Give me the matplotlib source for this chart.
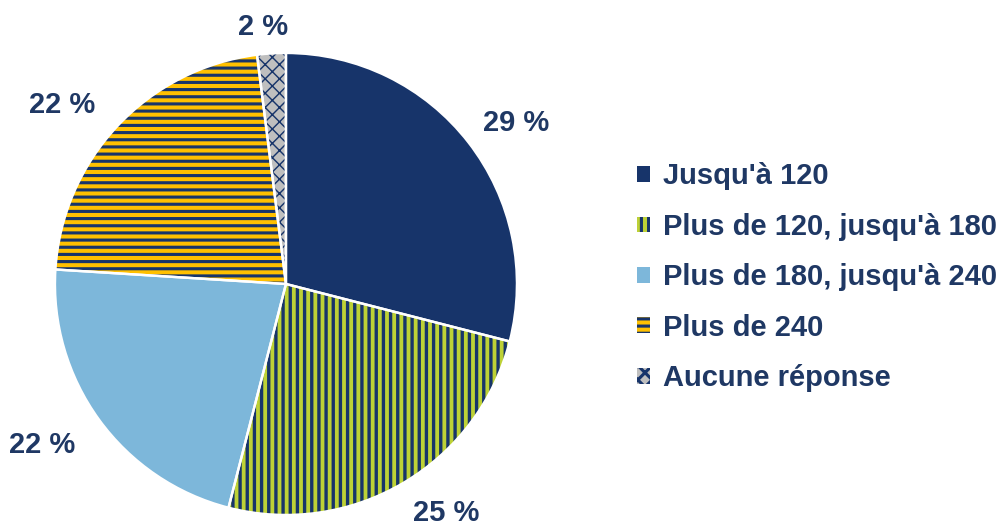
import numpy as np
import matplotlib.pyplot as plt

categories = [
    "Jusqu'à 120",
    "Plus de 120, jusqu'à 180",
    "Plus de 180, jusqu'à 240",
    "Plus de 240",
    "Aucune réponse",
]
shares = [29, 25, 22, 22, 2]

NAVY = "#17346A"
TEXT = "#1F3864"
fills = ["#17346A", "#BDD136", "#7DB7DA", "#FFC000", "#BFBFBF"]
hatches = [None, "||", None, "--", "xx"]
hatch_lw = [None, 2.8, None, 2.6, 1.2]

DPI = 86
FS = 24.4
plt.rcParams["font.family"] = ["Liberation Sans", "DejaVu Sans"]
plt.rcParams["font.weight"] = "bold"
plt.rcParams["hatch.linewidth"] = 2.6

fig = plt.figure(figsize=(1003 / DPI, 527 / DPI), dpi=DPI)
ax = fig.add_axes([0.0548, 0.0228, 0.4606, 0.8767])

wedges, _ = ax.pie(
    shares,
    colors=fills,
    startangle=90,
    counterclock=False,
    wedgeprops=dict(linewidth=0),
)

for w, h, lw in zip(wedges, hatches, hatch_lw):
    if h:
        w.set_edgecolor(NAVY)
        w.set_hatch(h)
        if hasattr(w, "set_hatch_linewidth"):
            w.set_hatch_linewidth(lw)

# white borders on top of the hatched fills
ax.pie(
    shares,
    startangle=90,
    counterclock=False,
    wedgeprops=dict(fill=False, edgecolor="white", linewidth=2),
)

# percentage labels, "outside end" style: anchored just past the rim
total = sum(shares)
for w, v in zip(wedges, shares):
    mid = np.deg2rad((w.theta1 + w.theta2) / 2)
    c, s = np.cos(mid), np.sin(mid)
    ha = "left" if c > 0.3 else ("right" if c < -0.3 else "center")
    va = "baseline" if s > 0 else "top"
    kx = 1.08 if c > 0 else 1.13
    ax.text(kx * c - (0.03 if ha == "center" else 0), 1.08 * s,
            f"{100 * v / total:.0f} %",
            ha=ha, va=va, color=TEXT, fontsize=FS, fontweight="bold")

ax.set_xlim(-1, 1)
ax.set_ylim(-1, 1)
ax.set_aspect("equal")
ax.axis("off")

leg = fig.legend(
    wedges, categories,
    loc="center left",
    bbox_to_anchor=(0.635, 0.474),
    frameon=False,
    fontsize=FS,
    labelcolor=TEXT,
    handlelength=0.45,
    handleheight=0.45,
    handletextpad=0.45,
    labelspacing=0.77,
    borderaxespad=0,
    borderpad=0,
)
for t in leg.get_texts():
    t.set_fontweight("bold")

fig.savefig("out.png", dpi=DPI)
